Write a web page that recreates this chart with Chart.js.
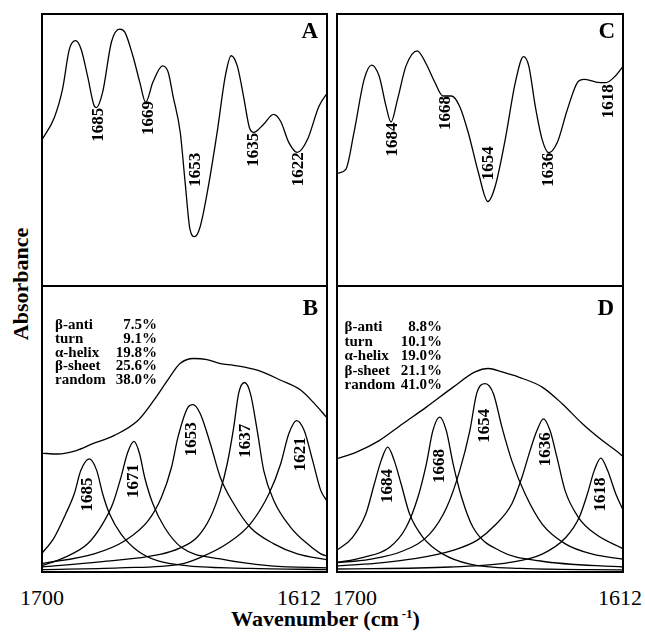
<!DOCTYPE html>
<html>
<head>
<meta charset="utf-8">
<script src="https://cdn.jsdelivr.net/npm/chart.js@4.4.1/dist/chart.umd.min.js"></script>
<style>
  html, body { margin: 0; padding: 0; background: #fff; }
  #fig { position: relative; width: 645px; height: 633px; background: #fff; overflow: hidden;
         font-family: "Liberation Serif", "Times New Roman", serif; color: #000; }
  #fig canvas { position: absolute; }
  .tick { position: absolute; top: 587px; font-size: 22px; line-height: 22px; white-space: nowrap; }
  #xtitle { position: absolute; left: 3px; width: 645px; top: 608px; text-align: center;
            font-size: 22px; line-height: 22px; font-weight: bold; white-space: nowrap; }
  #xtitle .sup { font-size: 13px; position: relative; top: -8px; margin-left: 3px; }
  #ytitle { position: absolute; left: -79px; top: 273px; width: 200px; height: 22px; line-height: 22px;
            text-align: center; font-size: 22px; font-weight: bold; transform: rotate(-90deg); }
</style>
</head>
<body>
<div id="fig">
  <canvas id="cA" width="287" height="274" style="left:41px;top:13px"></canvas>
  <canvas id="cB" width="287" height="286" style="left:41px;top:287px"></canvas>
  <canvas id="cC" width="288" height="274" style="left:336px;top:13px"></canvas>
  <canvas id="cD" width="288" height="286" style="left:336px;top:287px"></canvas>
  <div id="ytitle">Absorbance</div>
  <div class="tick" id="t1" style="left:20px"></div>
  <div class="tick" id="t2" style="right:324px"></div>
  <div class="tick" id="t3" style="left:333px"></div>
  <div class="tick" id="t4" style="right:3px"></div>
  <div id="xtitle">Wavenumber (cm<span class="sup">-1</span>)</div>
</div>
<script>
// axis range (cm-1), left to right
var tickLabels = ['1700', '1612'];

// second derivative spectra [wavenumber, absorbance a.u.]
var spectrumA = [[1700,53.2],[1695.9,61.9],[1693.4,72.2],[1691.3,86.8],[1689.4,89.9],[1687.7,86.8],[1685.7,76.9],[1683.6,65.9],[1683.0,65.5],[1681.1,71.1],[1678.4,89.4],[1675.9,94.1],[1674.3,93.0],[1671.8,84.2],[1669.7,74.7],[1667.9,67.4],[1665.7,74.7],[1662.7,80.7],[1661.0,78.4],[1659.5,69.6],[1657.3,56.4],[1655.8,38.1],[1654.3,20.9],[1652.9,18.4],[1651.2,22.0],[1648.7,36.6],[1646.0,56.4],[1643.5,76.9],[1641.7,84.4],[1639.8,80.6],[1637.9,69.6],[1636.1,58.2],[1634.8,56.4],[1631.8,59.3],[1628.7,63.0],[1626.5,60.4],[1624.0,52.7],[1621.4,49.1],[1618.3,53.8],[1614.8,65.9],[1612.0,71.1]];
var spectrumC = [[1699.5,41.5],[1697.0,42.9],[1694.5,56.4],[1691.4,75.8],[1689.1,81.0],[1686.8,76.9],[1684.7,65.9],[1683.2,60.2],[1681.2,68.5],[1678.6,80.7],[1675.2,86.2],[1672.4,81.3],[1669.8,74.7],[1667.3,69.7],[1664.7,69.7],[1662.2,65.9],[1659.6,56.4],[1656.5,41.8],[1653.6,31.2],[1651.4,36.6],[1648.3,53.8],[1645.2,74.7],[1642.7,84.1],[1641.1,80.7],[1639.1,65.9],[1637.0,53.8],[1635.0,49.0],[1632.4,52.7],[1629.3,64.8],[1626.2,74.7],[1624.2,75.8],[1620.6,74.8],[1617.5,74.6],[1615.0,76.6],[1612.0,81.0]];

// curve fitting, panel B
var envelopeB = [[1700,41.9],[1694.9,41.6],[1689.2,42.8],[1684.1,45.2],[1677.5,48.1],[1670.3,53.3],[1665.2,60.7],[1661.0,67.7],[1657.3,73.3],[1653.2,75.0],[1649.1,74.6],[1645.0,73.2],[1640.9,72.6],[1633.7,70.9],[1626.5,67.4],[1620.3,63.9],[1616.2,59.3],[1612.5,54.5]];
var b1685 = [[1700,6.5],[1696.0,12.3],[1692.4,20.7],[1689.8,27.7],[1687.8,35.8],[1685.2,39.9],[1682.9,35.8],[1681.1,27.7],[1679.0,20.7],[1675.5,13.7],[1670.3,7.7],[1664.1,4.2],[1654.9,2.5],[1635.8,1.6],[1612,1.2]];
var b1671 = [[1700,2.5],[1692.9,5.4],[1685.7,10.2],[1681.1,17.2],[1678.0,24.2],[1675.5,33.4],[1673.4,42.2],[1671.5,46.0],[1669.8,41.8],[1668.2,33.4],[1665.7,24.2],[1662.1,15.9],[1656.9,8.9],[1645.0,4.9],[1629.6,2.5],[1612,1.8]];
var b1653 = [[1700,3.2],[1683.7,6.7],[1674.4,11.2],[1667.2,18.2],[1663.1,26.4],[1660.0,36.9],[1658.0,47.5],[1654.9,58.0],[1653.4,58.9],[1651.2,55.8],[1648.1,45.3],[1645.0,33.4],[1640.9,24.2],[1635.8,15.9],[1628.6,10.2],[1621.4,6.7],[1612,4.6]];
var b1637 = [[1700,2.1],[1682,3.9],[1663.5,6.5],[1657.3,8.8],[1652.2,12.4],[1648.1,19.4],[1645.0,28.8],[1642.9,38.2],[1640.9,51.0],[1639.4,62.8],[1637.6,66.6],[1635.8,62.8],[1633.7,49.8],[1631.7,35.8],[1628.6,25.3],[1623.4,15.9],[1618.3,10.2],[1614.2,6.7],[1612,5.8]];
var b1621 = [[1700,1.2],[1675.9,1.8],[1657.3,3.1],[1651.2,5.4],[1643.0,10.2],[1635.8,17.2],[1630.1,27.7],[1626.5,38.2],[1624.0,48.8],[1621.6,53.3],[1619.3,49.8],[1616.7,39.3],[1614.2,28.8],[1612.5,25.5]];

// curve fitting, panel D
var envelopeD = [[1700,39.9],[1693.9,42.2],[1686.8,46.3],[1679.6,52.2],[1672.4,58.0],[1664.2,65.0],[1657.5,70.3],[1653.4,71.5],[1649.3,70.3],[1644.2,68.5],[1637.0,65.0],[1630.9,59.2],[1624.7,52.2],[1618.6,46.3],[1614.5,42.8],[1612,40.5]];
var d1684 = [[1700,7.7],[1695.0,12.4],[1690.9,20.6],[1688.3,31.1],[1686.2,39.3],[1684.2,44.0],[1682.2,39.3],[1680.1,31.1],[1677.5,20.6],[1673.4,12.4],[1667.3,6.6],[1659.1,3.1],[1643.7,1.6],[1612,1.1]];
var d1668 = [[1700,3.6],[1691.9,5.4],[1683.7,8.9],[1678.6,15.9],[1675.0,26.4],[1672.4,38.1],[1670.4,49.8],[1668.3,54.5],[1666.3,49.8],[1664.2,38.1],[1661.6,26.4],[1658.1,15.9],[1649.8,7.7],[1637.5,4.2],[1612,2.1]];
var d1654 = [[1700,3.6],[1689.8,4.8],[1679.6,7.7],[1671.4,13.6],[1666.2,22.9],[1662.2,35.8],[1659.1,49.8],[1657.0,62.8],[1654.4,66.2],[1651.9,62.7],[1649.3,51.0],[1646.3,39.3],[1642.2,27.6],[1637.0,17.1],[1629.8,10.1],[1621.6,6.6],[1612,4.8]];
var d1636 = [[1700,2.5],[1688,3.4],[1676,5.0],[1664,8.0],[1656.8,11.5],[1651.6,16.5],[1646.3,24.1],[1643.2,33.4],[1640.7,42.8],[1638.6,49.8],[1636.6,53.9],[1634.6,49.8],[1632.5,40.5],[1630.0,28.8],[1625.9,19.4],[1620.7,13.6],[1612,8.3]];
var d1618 = [[1700,1.4],[1665.2,2.1],[1647.3,3.6],[1637.0,6.6],[1629.8,12.4],[1625.7,19.4],[1623.2,27.6],[1621.1,35.8],[1619.1,40.2],[1617.0,35.8],[1614.5,27.6],[1612.2,21.8]];

// band labels and where they hang (data units)
var bandsA = ['1685', '1669', '1653', '1635', '1622'];
var spotsA = [[1682.2,65.4],[1667.1,67.9],[1652.7,49.0],[1634.8,56.3],[1620.9,49.2]];
var bandsB = ['1685', '1671', '1653', '1637', '1621'];
var spotsB = [[1685.6,33.4],[1671.7,38.1],[1653.7,52.7],[1637.3,52.2],[1620.3,47.5]];
var bandsC = ['1684', '1668', '1654', '1636', '1618'];
var spotsC = [[1682.7,60.0],[1666.4,69.7],[1653.4,51.4],[1635.0,49.0],[1616.6,74.0]];
var bandsD = ['1684', '1668', '1654', '1636', '1618'];
var spotsD = [[1684.2,36.4],[1668.3,43.4],[1654.5,57.4],[1636.0,49.2],[1619.1,33.4]];

// secondary structure content (%)
var structNames = ['\u03b2-anti', 'turn', '\u03b1-helix', '\u03b2-sheet', 'random'];
var contentB = [7.5, 9.1, 19.8, 25.6, 38.0];
var contentD = [8.8, 10.1, 19.0, 21.1, 41.0];

document.getElementById('t1').textContent = tickLabels[0];
document.getElementById('t2').textContent = tickLabels[1];
document.getElementById('t3').textContent = tickLabels[0];
document.getElementById('t4').textContent = tickLabels[1];

var SERIF = '"Liberation Serif", "Times New Roman", serif';

// box round each panel
var framePlugin = {
  id: 'frame',
  afterDraw: function(chart, args, opts) {
    var ctx = chart.ctx, a = chart.chartArea;
    ctx.save();
    ctx.strokeStyle = '#000';
    ctx.lineWidth = 2;
    ctx.beginPath();
    if (opts.top) { ctx.moveTo(a.left, a.top + 1); ctx.lineTo(a.right, a.top + 1); }
    ctx.moveTo(a.left + 1, a.top); ctx.lineTo(a.left + 1, a.bottom);
    ctx.moveTo(a.right - 1, a.top); ctx.lineTo(a.right - 1, a.bottom);
    ctx.moveTo(a.left, a.bottom - 1); ctx.lineTo(a.right, a.bottom - 1);
    ctx.stroke();
    ctx.restore();
  }
};

// band numbers, panel letter and structure table
var notesPlugin = {
  id: 'notes',
  afterDatasetsDraw: function(chart, args, o) {
    var ctx = chart.ctx, a = chart.chartArea;
    var xs = chart.scales.x, ys = chart.scales.y;
    ctx.save();
    ctx.fillStyle = '#000';
    ctx.font = 'bold 17px ' + SERIF;
    ctx.textAlign = 'right';
    ctx.textBaseline = 'middle';
    o.bands.forEach(function(t, i) {
      ctx.save();
      ctx.translate(xs.getPixelForValue(o.spots[i][0]), ys.getPixelForValue(o.spots[i][1]));
      ctx.rotate(-Math.PI / 2);
      ctx.fillText(t, 0, 0);
      ctx.restore();
    });
    ctx.textBaseline = 'alphabetic';
    ctx.font = 'bold 23px ' + SERIF;
    ctx.fillText(o.letter, a.right - o.letterInset, a.top + o.letterDy);
    if (o.content) {
      ctx.font = 'bold 15px ' + SERIF;
      o.content.forEach(function(v, i) {
        var yy = a.top + o.tableTop + i * o.tableStep;
        ctx.textAlign = 'left';
        ctx.fillText(structNames[i], a.left + o.tableLeft, yy);
        ctx.textAlign = 'right';
        ctx.fillText(v.toFixed(1) + '%', a.left + o.tableRight, yy);
      });
    }
    ctx.restore();
  }
};

function toXY(c) { return c.map(function(p) { return { x: p[0], y: p[1] }; }); }

function makePanel(id, curves, notes, top) {
  return new Chart(document.getElementById(id), {
    type: 'line',
    data: {
      datasets: curves.map(function(c) {
        return { data: toXY(c), borderColor: '#000', borderWidth: 1.3, pointRadius: 0,
                 fill: false, cubicInterpolationMode: 'monotone' };
      })
    },
    options: {
      responsive: false,
      animation: false,
      devicePixelRatio: 1,
      layout: { padding: 0 },
      scales: {
        x: { type: 'linear', reverse: true, min: 1612, max: 1700, display: false },
        y: { min: 0, max: 100, display: false }
      },
      plugins: {
        legend: { display: false },
        tooltip: { enabled: false },
        frame: { top: top },
        notes: notes
      }
    },
    plugins: [framePlugin, notesPlugin]
  });
}

makePanel('cA', [spectrumA],
  { bands: bandsA, spots: spotsA, letter: 'A', letterInset: 10, letterDy: 25 }, true);
makePanel('cC', [spectrumC],
  { bands: bandsC, spots: spotsC, letter: 'C', letterInset: 9, letterDy: 25 }, true);
makePanel('cB', [envelopeB, b1685, b1671, b1653, b1637, b1621],
  { bands: bandsB, spots: spotsB, letter: 'B', letterInset: 10, letterDy: 28,
    content: contentB, tableLeft: 14, tableRight: 116, tableTop: 42, tableStep: 13.75 }, false);
makePanel('cD', [envelopeD, d1684, d1668, d1654, d1636, d1618],
  { bands: bandsD, spots: spotsD, letter: 'D', letterInset: 10, letterDy: 28,
    content: contentD, tableLeft: 8.5, tableRight: 106, tableTop: 44, tableStep: 14.6 }, false);
</script>
</body>
</html>
